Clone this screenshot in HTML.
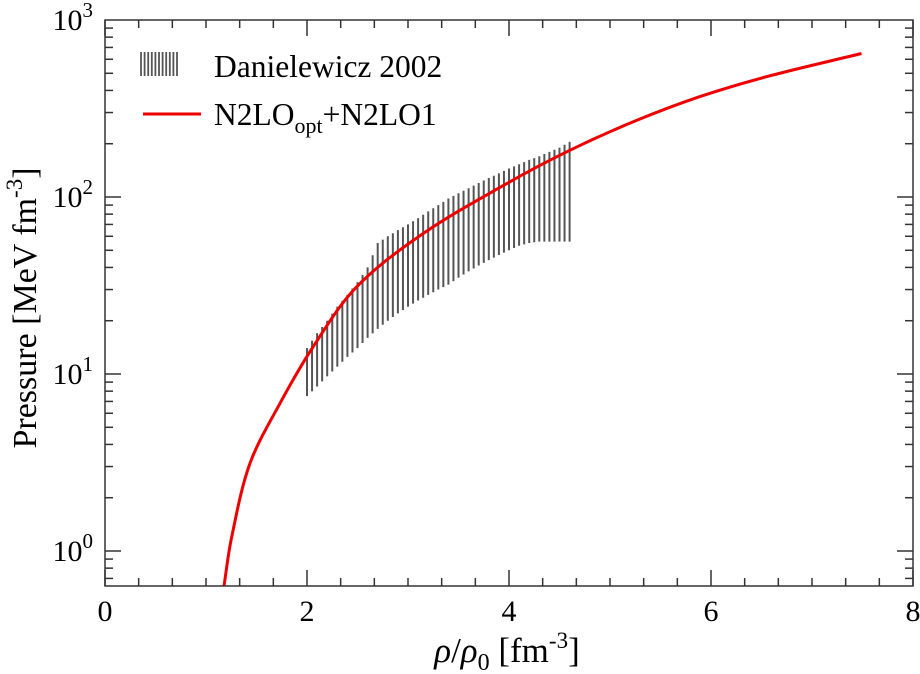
<!DOCTYPE html>
<html><head><meta charset="utf-8"><style>
body{margin:0;background:#fff;}
svg{display:block;font-family:"Liberation Serif",serif;}
</style></head><body>
<svg id="chart" width="920" height="674"></svg>
<script>
const curveX=[1.178,1.254,1.436,1.733,2.059,2.492,3.152,3.977,4.571,5.23,5.89,6.55,7.49];
const curveY=[0.634,1.2,3.13,6.83,14.2,31.1,62.3,119,180,266,369,478,647];
const bandX=[2.0,2.1,2.2,2.3,2.4,2.5,2.6,2.7,2.8,2.9,3.0,3.1,3.2,3.3,3.4,3.5,3.6,3.7,3.8,3.9,4.0,4.1,4.2,4.3,4.4,4.5,4.6];
const bandUpper=[14,17,20,24,28,33,40,55,60,65,70,76,83,90,98,105,112,120,128,136,145,153,162,170,180,190,205];
const bandLower=[7.5,8.5,9.7,11,12.5,14,16,18,20,22,24,26,28,30,32,35,38,41,44,47,50,53,55,56,56,56,56];
const xTicks=[0,2,4,6,8];
const yDecades=[0,1,2,3];

const NS="http://www.w3.org/2000/svg";
const svg=document.getElementById('chart');
const L=105,R=913,T=20,B=586;
const sx=v=>L+(v/8)*(R-L);
const Y0=551,DEC=177;
const sy=v=>Y0-Math.log10(v)*DEC;
function mk(tag,at,parent){const e=document.createElementNS(NS,tag);for(const k in at)e.setAttribute(k,at[k]);(parent||svg).appendChild(e);return e;}

const band=mk('g',{});


for(let i=0;i<bandX.length;i++){
  const pts=[[bandX[i],bandLower[i],bandUpper[i]]];
  if(i<bandX.length-1)pts.push([(bandX[i]+bandX[i+1])/2,Math.sqrt(bandLower[i]*bandLower[i+1]),Math.sqrt(bandUpper[i]*bandUpper[i+1])]);
  for(const p of pts){
    const l=mk('line',{x1:sx(p[0]),x2:sx(p[0]),y1:sy(p[1]),y2:sy(p[2]),stroke:'#555','stroke-width':2},band);
    
    
  }
}
const cp=mk('clipPath',{id:'cp'});
mk('rect',{x:L,y:T,width:R-L,height:B-T},cp);
const P=curveX.map((x,i)=>[sx(x),sy(curveY[i])]);
const n=P.length;
function tan(i){
  const a=P[Math.max(i-1,0)],b=P[Math.min(i+1,n-1)];
  const dx=b[0]-a[0],dy=b[1]-a[1],len=Math.hypot(dx,dy)||1;return [dx/len,dy/len];
}
let d='M'+P[0][0].toFixed(1)+','+P[0][1].toFixed(1);
for(let i=0;i<n-1;i++){
  const seg=Math.hypot(P[i+1][0]-P[i][0],P[i+1][1]-P[i][1])/3;
  const t0=tan(i),t1=tan(i+1);
  d+='C'+(P[i][0]+t0[0]*seg).toFixed(1)+','+(P[i][1]+t0[1]*seg).toFixed(1)+' '+(P[i+1][0]-t1[0]*seg).toFixed(1)+','+(P[i+1][1]-t1[1]*seg).toFixed(1)+' '+P[i+1][0].toFixed(1)+','+P[i+1][1].toFixed(1);
}
const cl=mk('path',{d:d,fill:'none',stroke:'#e00','stroke-width':3,'clip-path':'url(#cp)'});



const fr=mk('rect',{x:L,y:T,width:R-L,height:B-T,fill:'none',stroke:'#333','stroke-width':1.5});


for(let v=0;v<=8.001;v+=1/3){
  const major=Math.abs(v/2-Math.round(v/2))<0.01;
  const len=major?16:8,x=sx(v);
  mk('line',{x1:x,x2:x,y1:B,y2:B-len,stroke:'#333','stroke-width':1.5});
  mk('line',{x1:x,x2:x,y1:T,y2:T+len,stroke:'#333','stroke-width':1.5});
}
xTicks.forEach(v=>{const t=mk('text',{x:sx(v),y:B+35,'text-anchor':'middle','font-size':30});t.textContent=v;
});
for(let dcd=-1;dcd<=2;dcd++){for(let mm=1;mm<=9;mm++){const v=mm*Math.pow(10,dcd);const y=sy(v);if(y>B+0.5||y<T-0.5)continue;
 const len=mm==1?16:8;
 mk('line',{x1:L,x2:L+len,y1:y,y2:y,stroke:'#333','stroke-width':1.5});
 mk('line',{x1:R,x2:R-len,y1:y,y2:y,stroke:'#333','stroke-width':1.5});}}
yDecades.forEach(p=>{const t=mk('text',{x:93,y:sy(Math.pow(10,p))+10,'text-anchor':'end','font-size':30});
t.innerHTML='10<tspan dy="-13" font-size="21">'+p+'</tspan>';
});
const xt=mk('text',{x:507,y:662,'text-anchor':'middle','font-size':35});
xt.innerHTML='<tspan font-style="italic">ρ</tspan>/<tspan font-style="italic">ρ</tspan><tspan dy="8" font-size="24">0</tspan><tspan dy="-8"> [fm</tspan><tspan dy="-14" font-size="23">-3</tspan><tspan dy="14">]</tspan>';

const yt=mk('text',{x:0,y:0,'text-anchor':'middle','font-size':34,transform:'translate(36,308) rotate(-90)'});
yt.innerHTML='Pressure [MeV fm<tspan dy="-14" font-size="23">-3</tspan><tspan dy="14">]</tspan>';

const lg=mk('g',{});

for(let i=0;i<11;i++)mk('line',{x1:141+i*3.6,x2:141+i*3.6,y1:52,y2:76,stroke:'#555','stroke-width':1.8},lg);
const l1=mk('text',{x:214,y:77,'font-size':31.5},lg);l1.textContent='Danielewicz 2002';

mk('line',{x1:143,x2:201,y1:114,y2:114,stroke:'#e00','stroke-width':3},lg);
const l2=mk('text',{x:214,y:125,'font-size':31.5},lg);
l2.innerHTML='N2LO<tspan dy="8" font-size="22">opt</tspan><tspan dy="-8">+N2LO1</tspan>';

</script>
</body></html>
